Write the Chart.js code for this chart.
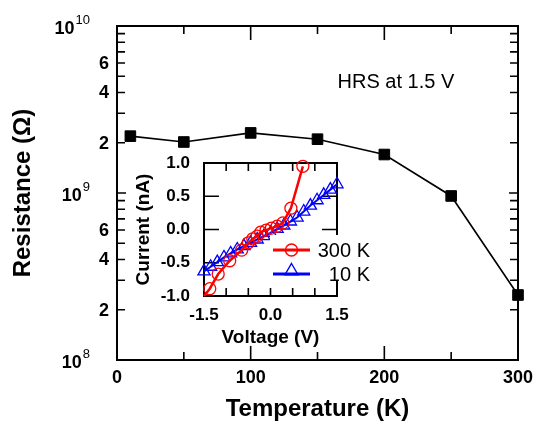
<!DOCTYPE html>
<html>
<head>
<meta charset="utf-8">
<script src="https://cdn.jsdelivr.net/npm/chart.js@4.4.0/dist/chart.umd.min.js"></script>
<style>
  html, body { margin: 0; padding: 0; background: #fff; }
  #wrap { position: relative; width: 539px; height: 425px; }
  #mainChart { position: absolute; left: 0; top: 0; }
  #insetChart { position: absolute; left: 120px; top: 150px; }
</style>
</head>
<body>
<div id="wrap">
  <canvas id="mainChart" width="539" height="425"></canvas>
  <canvas id="insetChart" width="260" height="200"></canvas>
</div>
<script>
// Resistance vs temperature (HRS at 1.5 V)
const temperatures = [10, 50, 100, 150, 200, 250, 300];
const resistances = [2.19e9, 2.02e9, 2.29e9, 2.10e9, 1.70e9, 9.6e8, 2.45e8];

const tempTicks = [0, 100, 200, 300];
const tempMinorTicks = [50, 150, 250];
const resDecades = [1e8, 1e9, 1e10];
const resLabelTicks = [2e8, 4e8, 6e8, 2e9, 4e9, 6e9];

// Inset: I-V curves
const volt300 = [-1.5, -1.37, -1.18, -0.92, -0.65, -0.5, -0.4, -0.3, -0.22, -0.1, 0.02, 0.15, 0.28, 0.46, 0.73];
const curr300 = [-1.0, -0.89, -0.67, -0.47, -0.31, -0.2, -0.14, -0.1, -0.04, -0.01, 0.02, 0.05, 0.1, 0.32, 0.95];
const volt10 = [-1.5, -1.35, -1.2, -1.05, -0.9, -0.75, -0.6, -0.45, -0.3, -0.15, 0, 0.15, 0.3, 0.45, 0.6, 0.75, 0.9, 1.05, 1.2, 1.35, 1.5];
const curr10 = [-0.63, -0.56, -0.49, -0.42, -0.36, -0.3, -0.25, -0.2, -0.15, -0.1, -0.05, 0.01, 0.06, 0.12, 0.18, 0.27, 0.36, 0.44, 0.52, 0.6, 0.68];

const voltTicks = [-1.5, 0, 1.5];
const voltMinorTicks = [-1.0, -0.5, 0, 0.5, 1.0];
const currTicks = [-1, -0.5, 0, 0.5, 1];
const currMinorTicks = [-0.5, 0, 0.5];

const FONT = "'Liberation Sans', Arial, sans-serif";
Chart.defaults.font.family = FONT;
Chart.defaults.color = '#000';

// log minor ticks 2..9 in each decade
const resMinorTicks = [];
[1e8, 1e9].forEach(d => { for (let m = 2; m <= 9; m++) resMinorTicks.push(d * m); });

// frame + inward ticks on all four sides
function drawFrame(chart, o) {
    const {ctx, chartArea: a, scales: {x, y}} = chart;
    ctx.save();
    ctx.strokeStyle = '#000';
    ctx.lineWidth = 2;
    ctx.strokeRect(a.left, a.top, a.right - a.left, a.bottom - a.top);
    ctx.lineWidth = 1.6;
    ctx.beginPath();
    const xt = (vals, len) => vals.forEach(v => {
        const px = x.getPixelForValue(v);
        ctx.moveTo(px, a.bottom); ctx.lineTo(px, a.bottom - len);
        ctx.moveTo(px, a.top); ctx.lineTo(px, a.top + len);
    });
    const yt = (vals, len) => vals.forEach(v => {
        const py = y.getPixelForValue(v);
        ctx.moveTo(a.left, py); ctx.lineTo(a.left + len, py);
        ctx.moveTo(a.right, py); ctx.lineTo(a.right - len, py);
    });
    xt(o.xMajor, o.xMajorLen);
    xt(o.xMinor, o.xMinorLen);
    yt(o.yMajor, o.yMajorLen);
    yt(o.yMinor, o.yMinorLen);
    ctx.stroke();
    ctx.restore();
}

const mainPlugin = {
    id: 'mainAxes',
    beforeDatasetsDraw(chart) {
        drawFrame(chart, {
            xMajor: tempTicks, xMajorLen: 14, xMinor: tempMinorTicks, xMinorLen: 8,
            yMajor: resDecades, yMajorLen: 9, yMinor: resMinorTicks, yMinorLen: 8
        });
    },
    afterDraw(chart) {
        const {ctx, chartArea: a, scales: {x, y}} = chart;
        ctx.save();
        ctx.fillStyle = '#000';
        ctx.textBaseline = 'middle';
        // x labels
        ctx.font = `bold 18px ${FONT}`;
        ctx.textAlign = 'center';
        tempTicks.forEach(v => ctx.fillText(String(v), x.getPixelForValue(v), a.bottom + 18));
        // y labels
        ctx.textAlign = 'right';
        resLabelTicks.forEach(v => {
            const m = Math.round(v / Math.pow(10, Math.floor(Math.log10(v) + 1e-9)));
            ctx.fillText(String(m), a.left - 8, y.getPixelForValue(v) + 1);
        });
        resDecades.forEach(v => {
            const py = y.getPixelForValue(v);
            const exp = String(Math.round(Math.log10(v)));
            ctx.font = `13px ${FONT}`;
            ctx.fillText(exp, a.left - 27, py - 6);
            const ew = ctx.measureText(exp).width;
            ctx.font = `bold 18px ${FONT}`;
            ctx.fillText('10', a.left - 28 - ew, py + 3);
        });
        // annotation
        ctx.font = `20px ${FONT}`;
        ctx.textAlign = 'left';
        ctx.fillText('HRS at 1.5 V', x.getPixelForValue(165), y.getPixelForValue(4.6e9));
        ctx.restore();
    }
};

new Chart(document.getElementById('mainChart'), {
    type: 'line',
    data: {
        labels: temperatures,
        datasets: [{
            label: 'Resistance',
            data: temperatures.map((t, i) => ({x: t, y: resistances[i]})),
            borderColor: '#000',
            backgroundColor: '#000',
            borderWidth: 1.6,
            pointStyle: 'rect',
            pointRadius: 7.5,
            pointBorderWidth: 1,
            pointBackgroundColor: '#000',
            pointBorderColor: '#000',
            clip: false
        }]
    },
    options: {
        responsive: false,
        animation: false,
        layout: { padding: { left: 5, top: 26, right: 21, bottom: 1 } },
        plugins: { legend: { display: false }, tooltip: { enabled: false } },
        scales: {
            x: {
                type: 'linear', min: 0, max: 300,
                grid: { display: false }, border: { display: false },
                ticks: { display: false },
                title: { display: true, text: 'Temperature (K)', font: { size: 24, weight: 'bold' }, padding: { top: 0, bottom: 0 } },
                afterFit: s => { s.height = 64; }
            },
            y: {
                type: 'logarithmic', min: 1e8, max: 1e10,
                grid: { display: false }, border: { display: false },
                ticks: { display: false },
                title: { display: true, text: 'Resistance (Ω)', font: { size: 24, weight: 'bold' }, padding: { top: 4, bottom: 0 } },
                afterFit: s => { s.width = 112; }
            }
        }
    },
    plugins: [mainPlugin]
});

// Inset
const RED = '#ff0000';
const BLUE = '#0000ff';

const insetPlugin = {
    id: 'insetAxes',
    beforeDatasetsDraw(chart) {
        drawFrame(chart, {
            xMajor: voltMinorTicks, xMajorLen: 8, xMinor: [], xMinorLen: 0,
            yMajor: currMinorTicks, yMajorLen: 15, yMinor: [], yMinorLen: 0
        });
    },
    afterDraw(chart) {
        const {ctx, chartArea: a, scales: {x, y}} = chart;
        ctx.save();
        ctx.fillStyle = '#000';
        ctx.textBaseline = 'middle';
        ctx.font = `bold 17px ${FONT}`;
        ctx.textAlign = 'center';
        voltTicks.forEach(v => ctx.fillText(v.toFixed(1), x.getPixelForValue(v), a.bottom + 19));
        ctx.textAlign = 'right';
        currTicks.forEach(v => ctx.fillText(v.toFixed(1), a.left - 14, y.getPixelForValue(v)));

        // legend box
        ctx.fillStyle = '#fff';
        ctx.fillRect(a.right - 67, a.top + 72, 106, 45);
        const rows = [
            {label: '300 K', color: RED, style: 'circle', r: 6, dy: 0},
            {label: '10 K', color: BLUE, style: 'triangle', r: 7.5, dy: -3}
        ];
        rows.forEach((row, i) => {
            const ry = a.top + 87 + i * 24;
            const x0 = a.right - 64, x1 = a.right - 27;
            ctx.strokeStyle = row.color;
            ctx.lineWidth = 3;
            ctx.beginPath(); ctx.moveTo(x0, ry); ctx.lineTo(x1, ry); ctx.stroke();
            ctx.lineWidth = 1.4;
            ctx.fillStyle = 'rgba(0,0,0,0)';
            Chart.helpers.drawPoint(ctx, {pointStyle: row.style, radius: row.r, borderWidth: 1.4, rotation: 0}, (x0 + x1) / 2, ry + row.dy);
            ctx.fillStyle = '#000';
            ctx.font = `20px ${FONT}`;
            ctx.textAlign = 'right';
            ctx.fillText(row.label, a.right + 33, ry + 1);
        });
        ctx.restore();
    }
};

new Chart(document.getElementById('insetChart'), {
    type: 'line',
    data: {
        datasets: [{
            label: '300 K',
            data: volt300.map((v, i) => ({x: v, y: curr300[i]})),
            borderColor: RED,
            borderWidth: 2.5,
            pointStyle: 'circle',
            pointRadius: ctx => ctx.dataIndex === 0 ? 0 : 6,
            pointBorderWidth: 1.3,
            pointBorderColor: RED,
            pointBackgroundColor: 'rgba(0,0,0,0)',
            clip: false,
            order: 1
        }, {
            label: '10 K',
            data: volt10.map((v, i) => ({x: v, y: curr10[i]})),
            borderColor: BLUE,
            borderWidth: 2,
            pointStyle: 'triangle',
            pointRadius: 7,
            pointBorderWidth: 1.3,
            pointBorderColor: BLUE,
            pointBackgroundColor: 'rgba(0,0,0,0)',
            clip: false,
            order: 2
        }]
    },
    options: {
        responsive: false,
        animation: false,
        layout: { padding: { left: 8, top: 13, right: 43, bottom: 1 } },
        plugins: { legend: { display: false }, tooltip: { enabled: false } },
        scales: {
            x: {
                type: 'linear', min: -1.5, max: 1.5,
                grid: { display: false }, border: { display: false },
                ticks: { display: false },
                title: { display: true, text: 'Voltage (V)', font: { size: 19, weight: 'bold' }, padding: { top: 0, bottom: 0 } },
                afterFit: s => { s.height = 53; }
            },
            y: {
                type: 'linear', min: -1, max: 1,
                grid: { display: false }, border: { display: false },
                ticks: { display: false },
                title: { display: true, text: 'Current (nA)', font: { size: 19, weight: 'bold' }, padding: { top: 4, bottom: 0 } },
                afterFit: s => { s.width = 76; }
            }
        }
    },
    plugins: [insetPlugin]
});
</script>
</body>
</html>
